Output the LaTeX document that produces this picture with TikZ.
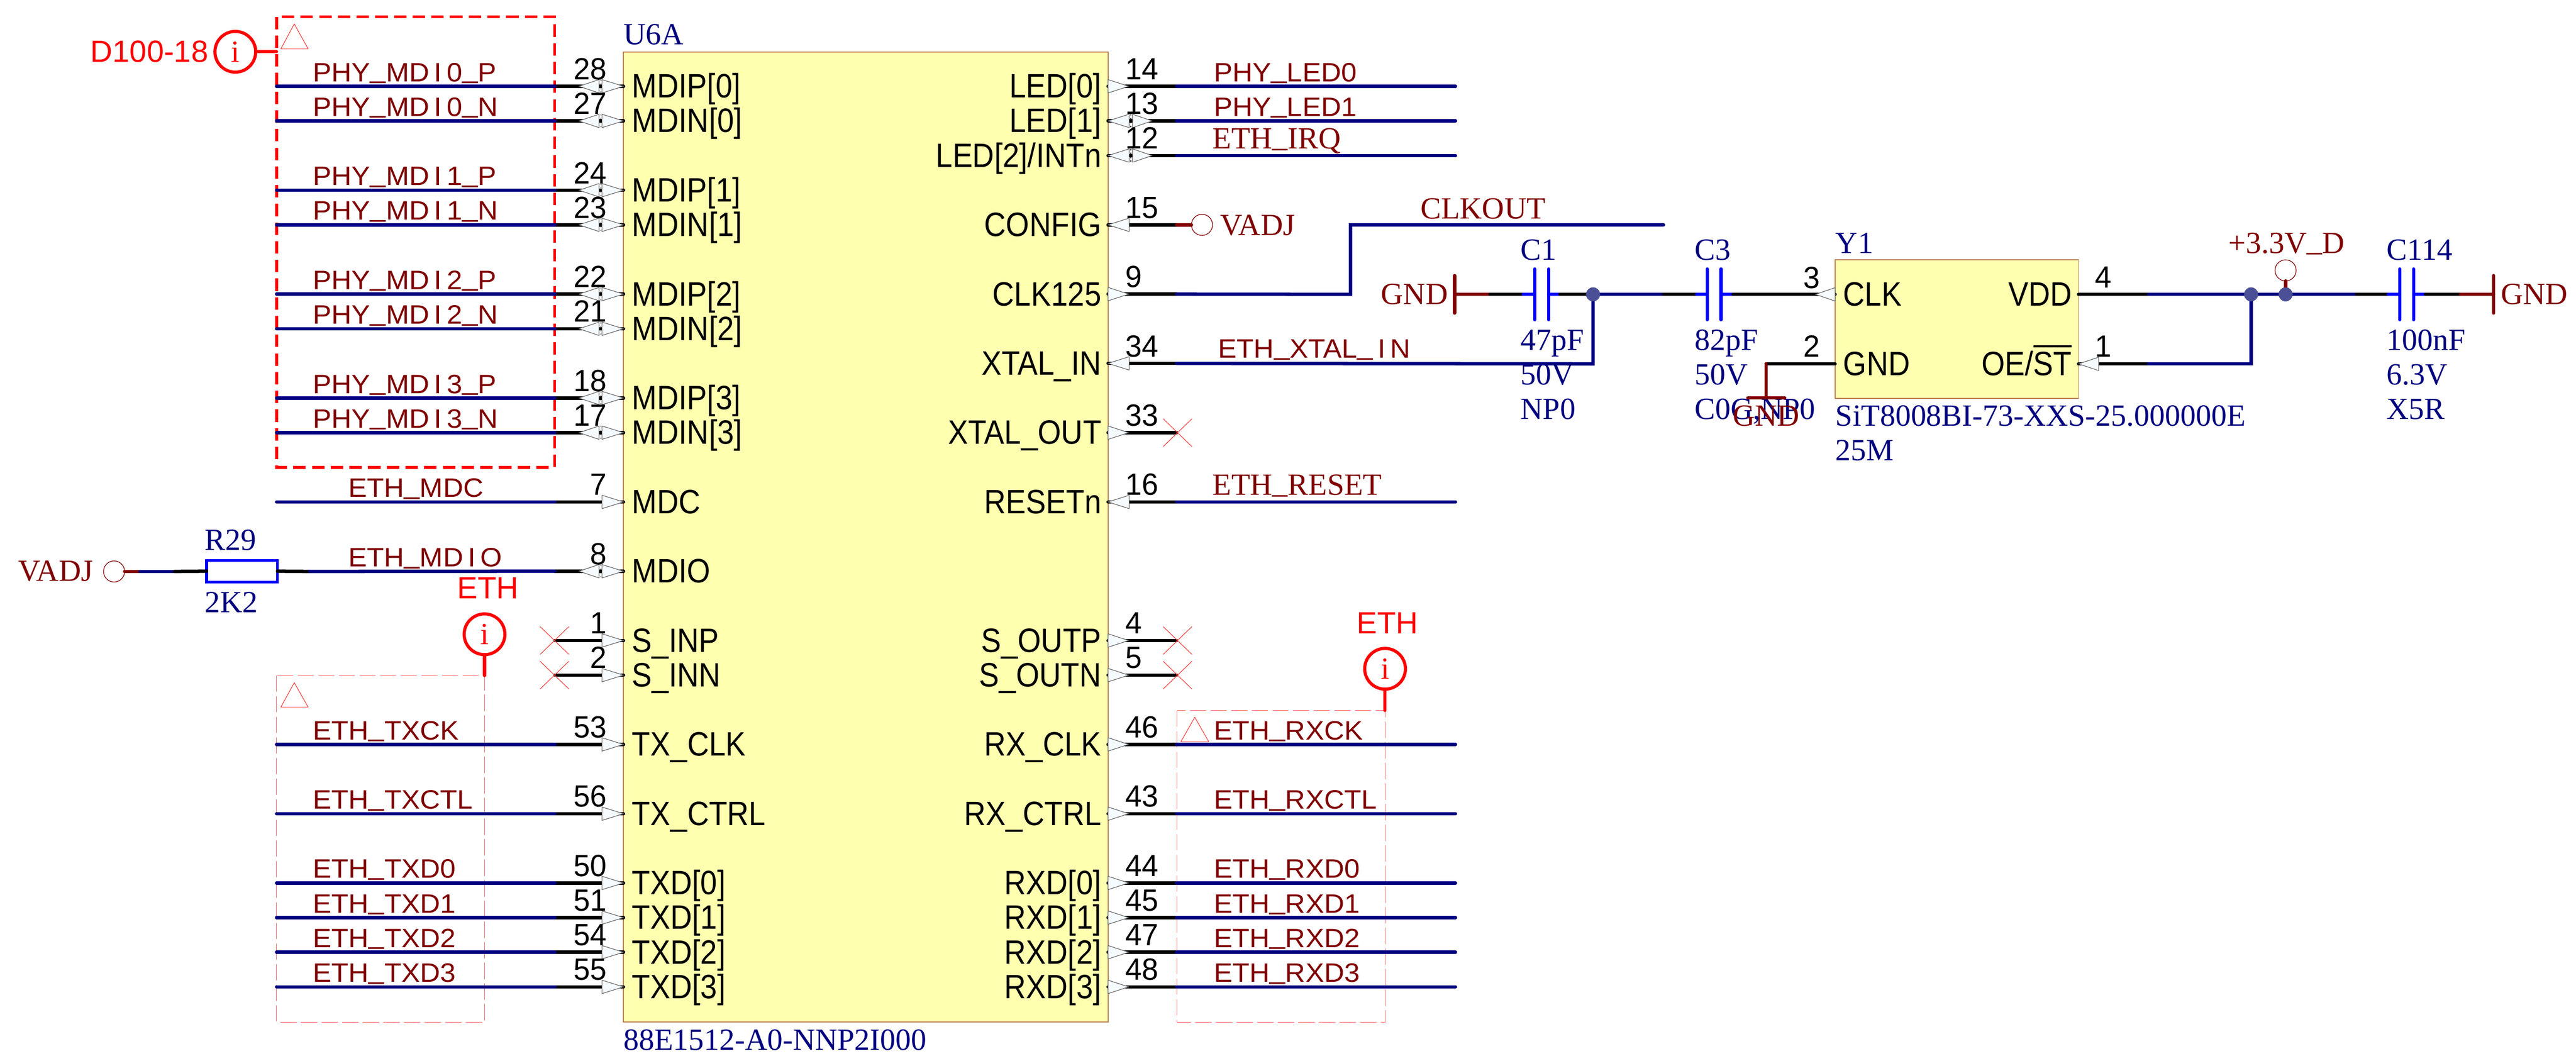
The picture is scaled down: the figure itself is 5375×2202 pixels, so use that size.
\documentclass[tikz,border=0pt]{standalone}
\usepackage{fontspec}
\setmainfont{Liberation Sans}
\newfontfamily\serfam{Liberation Serif}
\newfontfamily\pinfam[FakeStretch=0.89]{Liberation Sans}
\newfontfamily\numfam[FakeStretch=0.97]{Liberation Sans}
\newfontfamily\netfam[FakeStretch=1.05]{Liberation Sans}
\definecolor{wnavy}{HTML}{000080}
\definecolor{wred}{HTML}{800000}
\definecolor{blockfill}{HTML}{FFFFB0}
\definecolor{blockedge}{HTML}{C08050}
\definecolor{trifill}{HTML}{F5FAFF}
\definecolor{juncol}{HTML}{4B5096}
\definecolor{pinkdash}{HTML}{FF6060}
\newcommand\fpin{\pinfam\fontsize{70.5}{72}\selectfont}
\newcommand\fnum{\numfam\fontsize{64}{66}\selectfont}
\newcommand\fnet{\netfam\fontsize{55.5}{57}\selectfont}
\newcommand\fser{\serfam\fontsize{64.3}{66}\selectfont}
\newcommand\fred{\fontsize{64}{66}\selectfont}
\newcommand\gI{\kern10pt I\kern10pt }
\newcommand\us{\raisebox{7pt}{\_}}
\newcommand\uss{\raisebox{5pt}{\_}}
\newcommand\ovl[1]{\leavevmode\setbox0\hbox{#1}\rlap{\raisebox{58pt}{\rule{\wd0}{5pt}}}\box0}
\tikzset{
 x=1pt,y=-1pt,
 every node/.style={inner sep=0pt,outer sep=0pt},
 bluew/.style={draw=wnavy,line width=7pt,line cap=round,line join=miter},
 blackw/.style={draw=black,line width=7pt,line cap=round},
 redw/.style={draw=wred,line width=7pt,line cap=round},
 capw/.style={draw=blue,line width=6.5pt,line cap=round},
 pintri/.style={draw=black!60,fill=trifill,line width=1.3pt,line join=round},
 dotl/.style={draw=black,line width=2pt,dash pattern=on 3pt off 5pt},
 ncx/.style={draw=red!75,line width=1.3pt},
 pinname/.style={font=\fpin,text=black},
 pinnum/.style={font=\fnum,text=black},
 netlab/.style={font=\fnet,text=wred,anchor=base west},
 serblue/.style={font=\fser,text=wnavy,anchor=base west},
 serred/.style={font=\fser,text=wred},
 redlab/.style={font=\fred,text=red,anchor=base west},
 infoc/.style={circle,draw=red,line width=6.5pt,minimum size=85pt,font=\fser,text=red},
 portc/.style={circle,draw=wred,line width=1.4pt,minimum size=44pt},
 stem/.style={draw=red,line width=6.5pt,line cap=round},
 junc/.style={circle,fill=juncol,minimum size=29pt},
 block/.style={draw=blockedge,line width=2pt,fill=blockfill},
 thinbox/.style={draw=pinkdash,line width=1.5pt,dash pattern=on 34pt off 9pt},
 thinT/.style={draw=red!80,line width=1.2pt,line join=round},
 resbox/.style={draw=blue,line width=6pt,fill=white},
}
% triangles
\newcommand\TRi[3]{\draw[pintri] (#1,#3)--(#2,#3-14)--(#2,#3+14)--cycle;}
\newcommand\LIn[1]{\TRi{1301}{1256}{#1}}
\newcommand\LBi[1]{\TRi{1301}{1256}{#1}\TRi{1208}{1250}{#1}\draw[dotl] (1254,#1-14)--(1254,#1+14);}
\newcommand\ROut[1]{\TRi{2355}{2312}{#1}}
\newcommand\RIn[1]{\TRi{2312}{2356}{#1}}
\newcommand\RBi[1]{\TRi{2312}{2356}{#1}\TRi{2404}{2363}{#1}\draw[dotl] (2360,#1-14)--(2360,#1+14);}
% left pin: k, name, number, triangle
\newcommand\LPin[4]{%
 \pgfmathsetmacro\ry{180+72.25*#1}
 \coordinate (LP#1) at (1301,\ry);
 \coordinate (LW#1) at (1158,\ry);
 \coordinate (LE#1) at (577,\ry);
 \draw[blackw] (LW#1)--(LP#1);
 #4{\ry}
 \node[pinname,anchor=base west] (LN#1) at (1319,\ry+24) {#2};
 \node[pinnum,anchor=base east] (LM#1) at (1266,\ry-14) {#3};
}
\newcommand\LNet[3]{%
 \pgfmathsetmacro\ry{180+72.25*#1}
 \draw[bluew] (LE#1)--(LW#1);
 \node[netlab] (LL#1) at (#2,\ry-10) {#3};
}
\newcommand\RPin[4]{%
 \pgfmathsetmacro\ry{180+72.25*#1}
 \coordinate (RP#1) at (2312,\ry);
 \coordinate (RW#1) at (2455,\ry);
 \coordinate (RE#1) at (3037,\ry);
 \draw[blackw] (RP#1)--(RW#1);
 #4{\ry}
 \node[pinname,anchor=base east] (RN#1) at (2298,\ry+24) {#2};
 \node[pinnum,anchor=base west] (RM#1) at (2348,\ry-14) {#3};
}
\newcommand\RNet[2]{%
 \pgfmathsetmacro\ry{180+72.25*#1}
 \draw[bluew] (RW#1)--(RE#1);
 \node[netlab] (RL#1) at (2533,\ry-10) {#2};
}
\newcommand\RNetS[2]{%
 \pgfmathsetmacro\ry{180+72.25*#1}
 \draw[bluew] (RW#1)--(RE#1);
 \node[serred,anchor=base west] (RL#1) at (2530,\ry-14) {#2};
}
\newcommand\NCx[2]{\draw[ncx] (#1-30,#2-29)--(#1+30,#2+29) (#1-30,#2+29)--(#1+30,#2-29);}
\begin{document}
\begin{tikzpicture}
\useasboundingbox (0,0) rectangle (5375,2202);
% blocks
\node[block,draw,minimum width=1011pt,minimum height=2023pt,anchor=north west] (U6A) at (1301,109) {};
\node[block,draw,minimum width=508pt,minimum height=289pt,anchor=north west] (Y1) at (3829,542) {};
\node[serblue] (u6ref) at (1301,93) {U6A};
\node[serblue] (u6val) at (1301,2190) {88E1512-A0-NNP2I000};
\node[serblue] (y1ref) at (3830,528) {Y1};
\node[serblue] (y1val) at (3830,889) {SiT8008BI-73-XXS-25.000000E};
\node[serblue] (y1f) at (3830,961) {25M};
% net-tie boxes
\draw[draw=red,line width=6pt,dash pattern=on 26pt off 13pt] (577,35) rectangle (1157,975);
\draw[thinT] (614,50)--(586,102)--(643,102)--cycle;
\draw[thinbox] (577,1409) rectangle (1011,2132);
\draw[thinT] (614,1424)--(586,1475)--(643,1475)--cycle;
\draw[thinbox] (2456,1482) rectangle (2890,2132);
\draw[thinT] (2493,1496)--(2464,1547)--(2522,1547)--cycle;
\node[infoc] (iA) at (491,108) {i};
\coordinate (iAe) at (577,108);
\draw[stem] (iA.east)--(iAe);
\node[redlab] (iAt) at (189,130) {D100-18};
\node[infoc] (iB) at (1011,1323) {i};
\coordinate (iBe) at (1011,1409);
\draw[stem] (iB.south)--(iBe);
\node[redlab] (iBt) at (954,1249) {ETH};
\node[infoc] (iC) at (2890,1395) {i};
\coordinate (iCe) at (2890,1482);
\draw[stem] (iC.south)--(iCe);
\node[redlab] (iCt) at (2831,1322) {ETH};
% left pins
\LPin{0}{MDIP[0]}{28}{\LBi}\LNet{0}{653}{PHY\us MD\gI0\us P}
\LPin{1}{MDIN[0]}{27}{\LBi}\LNet{1}{653}{PHY\us MD\gI0\us N}
\LPin{3}{MDIP[1]}{24}{\LBi}\LNet{3}{653}{PHY\us MD\gI1\us P}
\LPin{4}{MDIN[1]}{23}{\LBi}\LNet{4}{653}{PHY\us MD\gI1\us N}
\LPin{6}{MDIP[2]}{22}{\LBi}\LNet{6}{653}{PHY\us MD\gI2\us P}
\LPin{7}{MDIN[2]}{21}{\LBi}\LNet{7}{653}{PHY\us MD\gI2\us N}
\LPin{9}{MDIP[3]}{18}{\LBi}\LNet{9}{653}{PHY\us MD\gI3\us P}
\LPin{10}{MDIN[3]}{17}{\LBi}\LNet{10}{653}{PHY\us MD\gI3\us N}
\LPin{12}{MDC}{7}{\LIn}\LNet{12}{727}{ETH\us MDC}
\LPin{14}{MDIO}{8}{\LBi}
\LPin{16}{S\_INP}{1}{\LIn}\NCx{1157}{1336}
\LPin{17}{S\_INN}{2}{\LIn}\NCx{1157}{1408.25}
\LPin{19}{TX\_CLK}{53}{\LIn}\LNet{19}{653}{ETH\us TXCK}
\LPin{21}{TX\_CTRL}{56}{\LIn}\LNet{21}{653}{ETH\us TXCTL}
\LPin{23}{TXD[0]}{50}{\LIn}\LNet{23}{653}{ETH\us TXD0}
\LPin{24}{TXD[1]}{51}{\LIn}\LNet{24}{653}{ETH\us TXD1}
\LPin{25}{TXD[2]}{54}{\LIn}\LNet{25}{653}{ETH\us TXD2}
\LPin{26}{TXD[3]}{55}{\LIn}\LNet{26}{653}{ETH\us TXD3}
% MDIO net with R29
\node[portc] (vadjL) at (238,1192) {};
\node[serred,anchor=base west] (vadjLt) at (38,1212) {VADJ};
\node[resbox,minimum width=148pt,minimum height=45pt,anchor=north west] (R29) at (431,1169) {};
\node[serblue] (r29ref) at (427,1148) {R29};
\node[serblue] (r29val) at (427,1278) {2K2};
\coordinate (ma) at (292,1192);\coordinate (mb) at (364,1192);
\coordinate (mc) at (646,1192);
\draw[redw] (vadjL.east)--(ma);
\draw[bluew] (ma)--(mb);
\draw[blackw] (mb)--(R29.west);
\draw[blackw] (R29.east)--(mc);
\draw[bluew] (mc)--(LW14);
\node[netlab] (LL14) at (727,1182) {ETH\us MD\gI O};
% right pins
\RPin{0}{LED[0]}{14}{\ROut}\RNet{0}{PHY\us LED0}
\RPin{1}{LED[1]}{13}{\RBi}\RNet{1}{PHY\us LED1}
\RPin{2}{LED[2]/INTn}{12}{\RBi}\RNetS{2}{ETH\uss IRQ}
\RPin{4}{CONFIG}{15}{\RIn}
\RPin{6}{CLK125}{9}{\ROut}
\RPin{8}{XTAL\_IN}{34}{\RIn}
\RPin{10}{XTAL\_OUT}{33}{\ROut}\NCx{2457}{902.5}
\RPin{12}{RESETn}{16}{\RIn}\RNetS{12}{ETH\uss RESET}
\RPin{16}{S\_OUTP}{4}{\ROut}\NCx{2457}{1336}
\RPin{17}{S\_OUTN}{5}{\ROut}\NCx{2457}{1408.25}
\RPin{19}{RX\_CLK}{46}{\ROut}\RNet{19}{ETH\us RXCK}
\RPin{21}{RX\_CTRL}{43}{\ROut}\RNet{21}{ETH\us RXCTL}
\RPin{23}{RXD[0]}{44}{\ROut}\RNet{23}{ETH\us RXD0}
\RPin{24}{RXD[1]}{45}{\ROut}\RNet{24}{ETH\us RXD1}
\RPin{25}{RXD[2]}{47}{\ROut}\RNet{25}{ETH\us RXD2}
\RPin{26}{RXD[3]}{48}{\ROut}\RNet{26}{ETH\us RXD3}
% CONFIG - VADJ
\node[portc] (vadjR) at (2508,469) {};
\node[serred,anchor=base west] (vadjRt) at (2546,491) {VADJ};
\draw[redw] (RW4)--(vadjR.west);
% CLKOUT
\coordinate (ck1) at (2818,614);\coordinate (ck2) at (2818,469);\coordinate (ck3) at (3471,469);
\draw[bluew] (RW6)--(ck1)--(ck2)--(ck3);
\node[serred,anchor=base west] (clkoutt) at (2964,456) {CLKOUT};
% C1 / C3 chain
\node[junc] (j1) at (3324,614) {};
\coordinate (xt) at (3324,759);
\draw[bluew] (RW8)--(xt)--(j1);
\node[netlab] (RL8) at (2542,747) {ETH\us XTAL\us\gI N};
\coordinate (g1) at (3035,614);\coordinate (g1a) at (3035,575);\coordinate (g1b) at (3035,653);
\coordinate (g1c) at (3109,614);\coordinate (c1a) at (3178,614);\coordinate (c1l) at (3202,614);
\coordinate (c1r) at (3231,614);\coordinate (c1b) at (3255,614);\coordinate (c3z) at (3471,614);
\coordinate (c3a) at (3540,614);\coordinate (c3l) at (3562,614);\coordinate (c3r) at (3591,614);
\coordinate (c3b) at (3616,614);\coordinate (Yclk) at (3829,614);\coordinate (Ytip) at (3788,614);
\draw[redw] (g1a)--(g1b) (g1)--(g1c);
\node[serred,anchor=base east] (gndA) at (3021,635) {GND};
\draw[blackw] (g1c)--(c1a);
\draw[capw] (c1a)--(c1l) (c1r)--(c1b) (3202,561)--(3202,667) (3231,561)--(3231,667);
\draw[blackw] (c1b)--(j1);
\draw[bluew] (j1)--(c3z);
\draw[blackw] (c3z)--(c3a);
\draw[capw] (c3a)--(c3l) (c3r)--(c3b) (3562,561)--(3562,667) (3591,561)--(3591,667);
\draw[blackw] (c3b)--(Yclk);
\node[junc] at (j1) {};
\draw[pintri] (Ytip)--(3829,600)--(3829,628)--cycle;
\node[serblue] (c1ref) at (3173,542) {C1};
\node[serblue] (c1v1) at (3173,730) {47pF};
\node[serblue] (c1v2) at (3173,802) {50V};
\node[serblue] (c1v3) at (3173,874) {NP0};
\node[serblue] (c3ref) at (3536,542) {C3};
\node[serblue] (c3v1) at (3536,730) {82pF};
\node[serblue] (c3v2) at (3536,802) {50V};
\node[serblue] (c3v3) at (3536,874) {C0G,NP0};
% Y1 pins
\node[pinname,anchor=base west] (yCLK) at (3846,638) {CLK};
\node[pinname,anchor=base west] (yGND) at (3846,783) {GND};
\node[pinname,anchor=base east] (yVDD) at (4323,638) {VDD};
\node[pinname,anchor=base east] (yOE) at (4323,783) {OE/\ovl{ST}};
\node[pinnum,anchor=base east] (yn3) at (3797,601) {3};
\node[pinnum,anchor=base east] (yn2) at (3797,744) {2};
\node[pinnum,anchor=base west] (yn4) at (4371,600) {4};
\node[pinnum,anchor=base west] (yn1) at (4371,744) {1};
% Y1 GND
\coordinate (yg) at (3829,759);\coordinate (yg1) at (3685,759);\coordinate (yg2) at (3685,830);
\coordinate (yg3) at (3647,830);\coordinate (yg4) at (3724,830);
\draw[blackw] (yg)--(yg1);
\draw[redw] (yg1)--(yg2) (yg3)--(yg4);
\node[serred,anchor=base] (gndB) at (3685,889) {GND};
% VDD
\coordinate (v0) at (4337,614);\coordinate (v1) at (4483,614);\coordinate (v2) at (4917,614);
\coordinate (v3) at (4983,614);\coordinate (v4) at (5007,614);\coordinate (v5) at (5036,614);
\coordinate (v6) at (5061,614);\coordinate (v7) at (5134,614);\coordinate (v8) at (5203,614);
\coordinate (oe0) at (4337,759);\coordinate (oe1) at (4483,759);\coordinate (oe2) at (4697,759);
\node[junc] (j2) at (4697,614) {};
\node[junc] (j3) at (4769,614) {};
\node[portc] (p33) at (4769,564) {};
\draw[blackw] (v0)--(v1);
\draw[bluew] (v1)--(v2);
\draw[blackw] (v2)--(v3);
\draw[capw] (v3)--(v4) (v5)--(v6) (5007,561)--(5007,667) (5036,561)--(5036,667);
\draw[blackw] (v6)--(v7);
\draw[redw] (v7)--(v8) (5203,575)--(5203,653);
\draw[redw] (p33.south)--(j3);
\node[serred,anchor=base west] (gndC) at (5218,635) {GND};
\draw[blackw] (oe0)--(oe1);
\draw[bluew] (oe1)--(oe2)--(j2);
\node[junc] at (j2) {};
\node[junc] at (j3) {};
\draw[pintri] (oe0)--(4379,745)--(4379,773)--cycle;
\node[serred,anchor=base west] (p33t) at (4650,528) {+3.3V\uss D};
\node[serblue] (c114ref) at (4980,542) {C114};
\node[serblue] (c114v1) at (4980,730) {100nF};
\node[serblue] (c114v2) at (4980,803) {6.3V};
\node[serblue] (c114v3) at (4980,875) {X5R};
\end{tikzpicture}
\end{document}
